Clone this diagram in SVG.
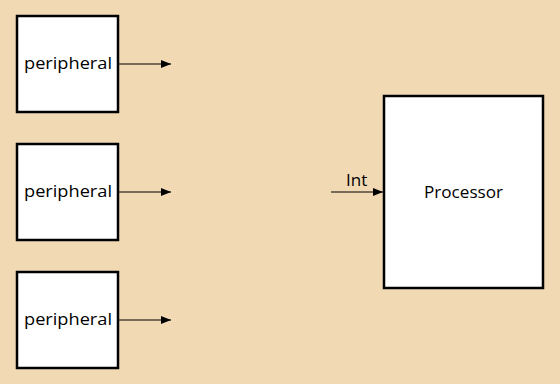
<svg xmlns="http://www.w3.org/2000/svg" width="560" height="384" viewBox="0 0 560 384">
<style>
.box{fill:#fff;stroke:#000;stroke-width:2.5}
.lbl{font-family:"Open Sans","Noto Sans",sans-serif;font-size:17px;fill:#000}
.wire{stroke:#000;stroke-width:1.2;fill:none;marker-end:url(#ah)}
</style>
<defs>
<marker id="ah" viewBox="0 0 10 8" refX="10" refY="4" markerWidth="10" markerHeight="8" markerUnits="userSpaceOnUse" orient="auto">
<path d="M0,0 L10,4 L0,8 Z" fill="#000"/>
</marker>
</defs>
<rect width="560" height="384" fill="#F1D9B4"/>
<g id="p1"><rect class="box" x="17" y="16" width="101" height="96"/><text class="lbl" x="24" y="69" textLength="88" lengthAdjust="spacingAndGlyphs">peripheral</text></g>
<g id="p2"><rect class="box" x="17" y="144" width="101" height="96"/><text class="lbl" x="24" y="197" textLength="88" lengthAdjust="spacingAndGlyphs">peripheral</text></g>
<g id="p3"><rect class="box" x="17" y="272" width="101" height="96"/><text class="lbl" x="24" y="325" textLength="88" lengthAdjust="spacingAndGlyphs">peripheral</text></g>
<g id="proc"><rect class="box" x="384" y="96" width="159" height="192"/><text class="lbl" x="424" y="198" textLength="79" lengthAdjust="spacingAndGlyphs">Processor</text></g>
<g id="connectors">
<line class="wire" x1="119" y1="64" x2="171" y2="64"/>
<line class="wire" x1="119" y1="192" x2="171" y2="192"/>
<line class="wire" x1="119" y1="320" x2="171" y2="320"/>
<line class="wire" x1="331" y1="192" x2="383" y2="192"/>
<text class="lbl" x="346" y="186">Int</text>
</g>
</svg>
